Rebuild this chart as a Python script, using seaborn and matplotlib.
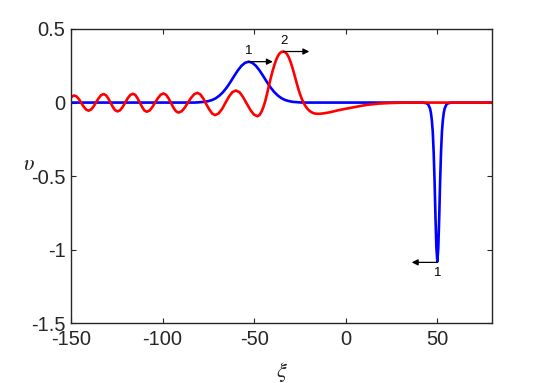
import matplotlib
matplotlib.use("Agg")
import matplotlib.pyplot as plt
import seaborn as sns
import pandas as pd

# ---- data ----
blue_xi = [-150, -120, -90, -83, -81, -79, -77, -75, -73, -71, -69, -67, -65, -63, -61, -59, -57, -55,
           -53, -51, -49, -47, -45, -43, -41, -39, -37, -35, -33, -31, -29, -27, -25, -23, -10, 20, 42,
           44, 45, 46, 46.5, 47, 47.5, 48, 48.5, 49, 49.5, 50, 50.5, 51, 51.5, 52, 52.5, 53, 53.5,
           54, 55, 56, 58, 65, 80]
blue_v = [0, 0, 0, 0, 0.001, 0.003, 0.005, 0.010, 0.017, 0.029, 0.047, 0.071, 0.102, 0.139,
          0.179, 0.217, 0.249, 0.270,
          0.278, 0.270, 0.249, 0.217, 0.179, 0.139, 0.102, 0.071, 0.047, 0.029, 0.017, 0.010,
          0.005, 0.003, 0.001, 0, 0, 0, 0,
          -0.004, -0.012, -0.040, -0.070, -0.120, -0.200, -0.340, -0.540, -0.790, -0.990, -1.080,
          -0.990, -0.790, -0.540, -0.340, -0.200, -0.120, -0.070,
          -0.040, -0.012, -0.004, 0, 0, 0]

red_xi = [-150, -149, -148.2, -146.9, -145.6, -144.3, -143.0, -141.7, -140.4,
          -139.0, -137.7, -136.3, -134.9, -133.6, -132.2,
          -130.9, -129.7, -128.4, -127.1, -125.9, -124.6,
          -123.2, -121.8, -120.4, -119.0, -117.6, -116.2,
          -114.9, -113.7, -112.4, -111.1, -109.9, -108.6,
          -107.1, -105.6, -104.1, -102.5, -101.0, -99.5,
          -98.1, -96.8, -95.4, -94.0, -92.7, -91.3,
          -89.6, -87.9, -86.2, -84.4, -82.7, -81.0,
          -79.4, -77.8, -76.2, -74.5, -72.9, -71.3,
          -69.4, -67.5, -65.7, -63.8, -61.9, -60.0,
          -58.0, -56.1, -54.1, -52.1, -50.2, -48.2,
          -47, -46, -45, -44, -43, -42, -41, -40, -39, -38, -37, -36, -35, -34, -33, -32,
          -31, -30, -29, -28, -27, -26, -25, -24, -23, -22, -21, -20, -19, -18, -17, -16,
          -14, -12, -10, -8, -6, -4, -2, 0, 3, 6, 9, 12, 15, 18, 21, 24, 27, 30, 34, 80]
red_v = [0.035, 0.045, 0.048, 0.041, 0.022, -0.004, -0.029, -0.048, -0.055,
         -0.047, -0.027, 0.002, 0.030, 0.050, 0.058,
         0.050, 0.029, -0.001, -0.031, -0.052, -0.060,
         -0.052, -0.030, 0.000, 0.030, 0.052, 0.060,
         0.052, 0.030, -0.001, -0.032, -0.054, -0.062,
         -0.054, -0.031, 0.000, 0.031, 0.054, 0.062,
         0.053, 0.030, -0.003, -0.036, -0.059, -0.068,
         -0.059, -0.035, -0.001, 0.033, 0.057, 0.066,
         0.056, 0.028, -0.010, -0.047, -0.075, -0.085,
         -0.074, -0.043, -0.002, 0.040, 0.071, 0.082,
         0.070, 0.038, -0.006, -0.049, -0.081, -0.093,
         -0.083, -0.062, -0.032, 0.008, 0.058, 0.112, 0.164, 0.212, 0.254, 0.290, 0.318,
         0.336, 0.345, 0.347, 0.342, 0.328,
         0.305, 0.272, 0.232, 0.188, 0.142, 0.098, 0.058, 0.025, -0.002, -0.024, -0.041,
         -0.054, -0.063, -0.070, -0.074, -0.076,
         -0.076, -0.073, -0.069, -0.064, -0.058, -0.052, -0.047, -0.042, -0.035, -0.028,
         -0.021, -0.015, -0.011, -0.007, -0.005, -0.003, -0.002, -0.001, 0, 0]

x_ticks = [-150, -100, -50, 0, 50]
y_ticks = [-1.5, -1, -0.5, 0, 0.5]
x_tick_labels = ["-150", "-100", "-50", "0", "50"]
y_tick_labels = ["-1.5", "-1", "-0.5", "0", "0.5"]

# annotations: (text, arrow start x, arrow start y, arrow end x, label x, label y)
ann_labels = ["1", "2", "1"]
ann_start_x = [-53.0, -34.0, 50.0]
ann_start_y = [0.278, 0.347, -1.086]
ann_end_x = [-39.8, -19.9, 36.0]
ann_text_x = [-52.8, -33.6, 50.0]
ann_text_y = [0.352, 0.42, -1.16]

# ---- styling ----
sns.set_theme(style="white")
plt.rcParams["font.family"] = ["Liberation Sans", "DejaVu Sans"]
plt.rcParams["mathtext.fontset"] = "stix"

ink = "#262626"
fig = plt.figure(figsize=(5.45, 3.83), dpi=100)
ax = fig.add_axes([71 / 545, 1 - 323.3 / 383, (492.3 - 71) / 545, (323.3 - 29) / 383])

df_blue = pd.DataFrame({"xi": blue_xi, "v": blue_v})
df_red = pd.DataFrame({"xi": red_xi, "v": red_v})
sns.lineplot(data=df_blue, x="xi", y="v", ax=ax, color="#0000FF", linewidth=1.9,
             sort=False, estimator=None)
sns.lineplot(data=df_red, x="xi", y="v", ax=ax, color="#FF0000", linewidth=1.9,
             sort=False, estimator=None)

ax.set_xlim(-150, 80)
ax.set_ylim(-1.5, 0.5)
ax.set_xticks(x_ticks)
ax.set_xticklabels(x_tick_labels)
ax.set_yticks(y_ticks)
ax.set_yticklabels(y_tick_labels)

ax.tick_params(direction="in", length=3.5, width=0.8, colors=ink, labelsize=14.5,
               top=True, right=True, bottom=True, left=True)
ax.tick_params(axis="x", pad=5)
ax.tick_params(axis="y", pad=4)
for s in ax.spines.values():
    s.set_color(ink)
    s.set_linewidth(1.0)
    s.set_visible(True)
ax.grid(False)

ax.set_xlabel(r"$\xi$", fontsize=16, color=ink)
ax.xaxis.set_label_coords(0.5, -0.1645)
ax.xaxis.label.set_va("center")
ax.set_ylabel(r"$\upsilon$", fontsize=16, color=ink, rotation=0)
ax.yaxis.set_label_coords(-0.0997, 0.538)
ax.yaxis.label.set_va("center")
ax.yaxis.label.set_ha("center")

for lab, sx, sy, ex, tx, ty in zip(ann_labels, ann_start_x, ann_start_y, ann_end_x,
                                   ann_text_x, ann_text_y):
    ax.annotate("", xy=(ex, sy), xytext=(sx, sy),
                arrowprops=dict(arrowstyle="-|>", color="black", lw=0.9,
                                mutation_scale=9, shrinkA=0, shrinkB=0))
    ax.text(tx, ty, lab, ha="center", va="center", fontsize=9.5, color="black")

fig.savefig("out.png", dpi=100)
